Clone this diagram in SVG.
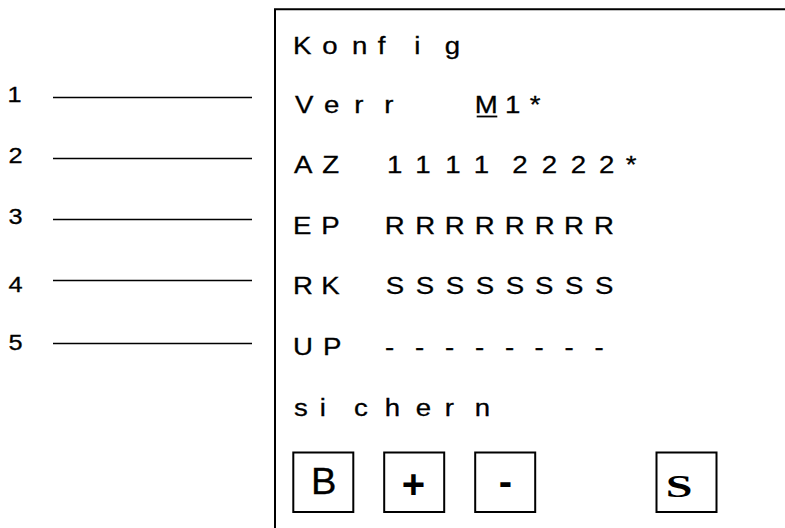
<svg xmlns="http://www.w3.org/2000/svg" width="785" height="528" viewBox="0 0 785 528">
<style>
.t{font-family:"Liberation Sans",Arial,sans-serif;font-size:24px;fill:#000;stroke:#000;stroke-width:0.3}
.lbl{font-family:"Liberation Sans",Arial,sans-serif;font-size:22px;fill:#000;stroke:#000;stroke-width:0.3}
.btn{fill:#fff;stroke:#000;stroke-width:2}
.bt{font-family:"Liberation Sans",Arial,sans-serif;fill:#000;text-anchor:middle}
.ln{stroke:#000;stroke-width:1.6;fill:none}
.fr{stroke:#000;stroke-width:2;fill:none}
</style>
<rect width="785" height="528" fill="#fff"/>
<g id="frame">
<path class="fr" d="M275,528 V9.2 H785"/>
</g>
<g id="labels">
<text class="lbl" transform="scale(1.15,1)" x="6.5" y="102">1</text>
<text class="lbl" transform="scale(1.15,1)" x="7.5" y="163.5">2</text>
<text class="lbl" transform="scale(1.15,1)" x="7.5" y="224">3</text>
<text class="lbl" transform="scale(1.15,1)" x="7.5" y="292">4</text>
<text class="lbl" transform="scale(1.15,1)" x="7.5" y="350.5">5</text>
</g>
<g id="connectors">
<line class="ln" x1="53" y1="97.5" x2="252" y2="97.5"/>
<line class="ln" x1="53" y1="158.5" x2="252" y2="158.5"/>
<line class="ln" x1="53" y1="219.5" x2="252" y2="219.5"/>
<line class="ln" x1="53" y1="280.5" x2="252" y2="280.5"/>
<line class="ln" x1="53" y1="343.5" x2="252" y2="343.5"/>
</g>
<g id="row-konfig">
<text class="t" transform="scale(1.15,1)" x="254.8 280.3 306.1 328.5 360.2 386.7" y="54">Konfig</text>
</g>
<g id="row-verr">
<text class="t" transform="scale(1.15,1)" x="256.5 281.7 308 334.1" y="113.5">Verr</text>
<text class="t" transform="scale(1.15,1)" x="412.8 439.1 460.6" y="113.5">M1*</text>
<line x1="476.7" y1="116.5" x2="497.3" y2="116.5" stroke="#000" stroke-width="1.8"/>
</g>
<g id="row-az">
<text class="t" transform="scale(1.15,1)" x="255.7 280.3" y="173">AZ</text>
<text class="t" transform="scale(1.15,1)" x="336.5 361.1 387.2 411.9 445.5 471 496.3 520.9 544.1" y="173">11112222*</text>
</g>
<g id="row-ep">
<text class="t" transform="scale(1.15,1)" x="254.8 279.4" y="234">EP</text>
<text class="t" transform="scale(1.15,1)" x="334.5 361.1 386.7 412.8 438.9 465 490.4 516.5" y="234">RRRRRRRR</text>
</g>
<g id="row-rk">
<text class="t" transform="scale(1.15,1)" x="254.8 279.4" y="294.5">RK</text>
<text class="t" transform="scale(1.15,1)" x="335.4 361.5 387.6 413.7 439.7 465.2 491.3 517.4" y="294.5">SSSSSSSS</text>
</g>
<g id="row-up">
<text class="t" transform="scale(1.15,1)" x="254.8 280.9" y="355.5">UP</text>
<text class="t" transform="scale(1.15,1)" x="334.8 360.9 387 413 439.1 464.7 490.8 516.9" y="355.5">--------</text>
</g>
<g id="row-sichern">
<text class="t" transform="scale(1.15,1)" x="255.7 278 307.8 334.5 361.5 386.7 412.8" y="416.5">sichern</text>
</g>
<g id="btn-b">
<rect class="btn" x="293.3" y="452.5" width="60" height="59.5"/>
<text class="bt" transform="scale(1.06,1)" x="305.4" y="494" font-size="36" stroke="#000" stroke-width="0.3">B</text>
</g>
<g id="btn-plus">
<rect class="btn" x="384.2" y="452.5" width="60" height="59.5"/>
<text class="bt" x="413.5" y="497.5" font-size="40" font-weight="bold">+</text>
</g>
<g id="btn-minus">
<rect class="btn" x="475.2" y="452.5" width="60" height="59.5"/>
<text class="bt" x="505.5" y="494.5" font-size="40" font-weight="bold">-</text>
</g>
<g id="btn-s">
<rect class="btn" x="656.5" y="452.5" width="60" height="59.5"/>
<text transform="scale(1.55,1)" x="438.1" y="497" font-family="'Liberation Serif','Times New Roman',serif" font-weight="bold" font-size="31" text-anchor="middle" fill="#000">S</text>
</g>
</svg>
